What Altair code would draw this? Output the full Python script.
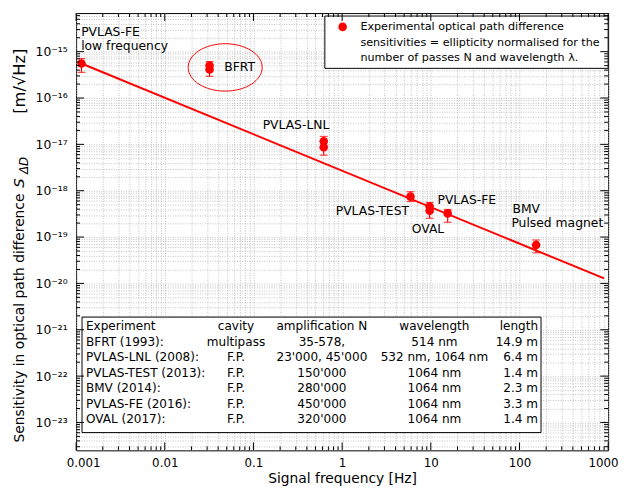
import altair as alt
import pandas as pd

# ---------------- data ----------------
experiment = ["PVLAS-FE low", "BFRT", "BFRT", "PVLAS-LNL", "PVLAS-LNL",
              "PVLAS-TEST", "OVAL", "OVAL", "PVLAS-FE", "BMV"]
freq = [0.00115, 0.032, 0.032, 0.62, 0.62, 5.9, 9.7, 9.7, 15.5, 154]
sens = [5.55e-16, 5.04e-16, 4.14e-16, 1.16e-17, 8.63e-18,
        7.45e-19, 4.57e-19, 3.7e-19, 3.24e-19, 6.76e-20]
err_hi = [7.1e-16, 6.1e-16, 5.04e-16, 1.48e-17, 1.16e-17,
          9.53e-19, 5.56e-19, 4.57e-19, 3.94e-19, 8.63e-20]
err_lo = [3.57e-16, 4.14e-16, 2.94e-16, 8.63e-18, 5.83e-18,
          5.83e-19, 3.57e-19, 2.54e-19, 2.08e-19, 4.57e-20]

line_f = [0.00115, 900]
line_s = [5.55e-16, 1.28e-20]

label_text = ["PVLAS-FE", "low frequency", "BFRT", "PVLAS-LNL", "PVLAS-TEST",
              "PVLAS-FE", "OVAL", "BMV", "Pulsed magnet"]
label_f = [0.00114, 0.00114, 0.0468, 0.127, 0.847, 11.9, 6.1, 83.3, 81.1]
label_s = [2.66e-15, 1.34e-15, 4.57e-16, 2.67e-17, 3.57e-19,
           6.44e-19, 1.48e-19, 3.94e-19, 1.99e-19]

ellipse_f = [0.048]
ellipse_s = [4.57e-16]

legend_lines = ["Experimental optical path difference",
                "sensitivities = ellipticity normalised for the",
                "number of passes N and wavelength \u03bb."]

tab_experiment = ["Experiment", "BFRT (1993):", "PVLAS-LNL (2008):", "PVLAS-TEST (2013):",
                  "BMV (2014):", "PVLAS-FE (2016):", "OVAL (2017):"]
tab_cavity = ["cavity", "multipass", "F.P.", "F.P.", "F.P.", "F.P.", "F.P."]
tab_ampl = ["amplification N", "35-578,", "23'000, 45'000", "150'000",
            "280'000", "450'000", "320'000"]
tab_wave = ["wavelength", "514 nm", "532 nm, 1064 nm", "1064 nm",
            "1064 nm", "1064 nm", "1064 nm"]
tab_length = ["length", "14.9 m", "6.4 m", "1.4 m", "2.3 m", "3.3 m", "1.4 m"]

x_domain = [0.001, 1000]
y_domain = [2.5e-24, 6.8e-15]
x_decades = [-3, -2, -1, 0, 1, 2, 3]
y_decades = list(range(-24, -14))
x_tick_labels = ["0.001", "0.01", "0.1", "1", "10", "100", "1000"]

# ---------------- layout ----------------
W, H = 539, 443
FONT = "DejaVu Sans"
RED = "#ff0000"

sup = str.maketrans("-0123456789", "\u207b\u2070\u00b9\u00b2\u00b3\u2074\u2075\u2076\u2077\u2078\u2079")

x_major = [10.0 ** e for e in x_decades]
x_minor = [k * 10.0 ** e for e in x_decades[:-1] for k in range(2, 10)]
y_major = [10.0 ** e for e in y_decades if y_domain[0] <= 10.0 ** e <= y_domain[1]]
y_minor = [k * 10.0 ** e for e in y_decades for k in range(2, 10)
           if y_domain[0] <= k * 10.0 ** e <= y_domain[1]]

exp_expr = "round(log(datum.value)/LN10)"
dec_expr = f"abs(log(datum.value)/LN10 - {exp_expr}) < 0.001"
xchain = "".join(f"{exp_expr}=={e}?'{t}':" for e, t in zip(x_decades, x_tick_labels)) + "''"
ychain = "".join(f"{exp_expr}=={e}?'{('10' + str(e).translate(sup))}':" for e in y_decades) + "''"

x_axis = alt.Axis(values=sorted(x_major + x_minor), labelExpr=f"({dec_expr}) ? ({xchain}) : ''",
                  grid=True, gridColor="#a8a8a8", gridDash=[1, 1.5], gridWidth=0.7,
                  ticks=False, domain=False, labelFont=FONT, labelFontSize=12,
                  labelColor="black", labelPadding=7, labelFlush=True, labelFlushOffset=10,
                  labelOverlap=False,
                  title="Signal frequency [Hz]", titleFont=FONT, titleFontSize=14,
                  titleFontWeight="normal", titleColor="black", titlePadding=4)
y_axis = alt.Axis(values=sorted(y_major + y_minor), labelExpr=f"({dec_expr}) ? ({ychain}) : ''",
                  grid=True, gridColor="#a8a8a8", gridDash=[1, 1.5], gridWidth=0.7,
                  ticks=False, domain=False, labelFont=FONT, labelFontSize=12.5,
                  labelColor="black", labelPadding=9, labelOverlap=False, title=None)


def X(field):
    return alt.X(field, type="quantitative", scale=alt.Scale(type="log", domain=x_domain), axis=x_axis)


def Y(field):
    return alt.Y(field, type="quantitative", scale=alt.Scale(type="log", domain=y_domain), axis=y_axis)


pts = pd.DataFrame({"experiment": experiment, "f": freq, "s": sens, "lo": err_lo, "hi": err_hi})
fit = pd.DataFrame({"f": line_f, "s": line_s})
labs = pd.DataFrame({"t": label_text, "f": label_f, "s": label_s})
ell = pd.DataFrame({"f": ellipse_f, "s": ellipse_s})
one = pd.DataFrame({"k": [0]})

base_pts = alt.Chart(pts)
line = alt.Chart(fit).mark_line(color=RED, strokeWidth=2).encode(x=X("f"), y=Y("s"))
ebar = base_pts.mark_rule(color=RED, strokeWidth=1.2).encode(x=X("f"), y=Y("lo"), y2="hi")
cap_lo = base_pts.mark_tick(color=RED, orient="horizontal", size=8, thickness=1.2).encode(x=X("f"), y=Y("lo"))
cap_hi = base_pts.mark_tick(color=RED, orient="horizontal", size=8, thickness=1.2).encode(x=X("f"), y=Y("hi"))
dots = base_pts.mark_point(filled=True, color=RED, size=75, opacity=1).encode(x=X("f"), y=Y("s"))
texts = alt.Chart(labs).mark_text(font=FONT, fontSize=12.5, align="left", baseline="middle",
                                  color="black").encode(x=X("f"), y=Y("s"), text="t:N")
ellipse = alt.Chart(ell).mark_point(shape="M-1,0A1,0.64 0 1,1 1,0A1,0.64 0 1,1 -1,0Z",
                                    size=5625, filled=False, color=RED, strokeWidth=1,
                                    opacity=1).encode(x=X("f"), y=Y("s"))

# legend box
leg_box = alt.Chart(one).mark_rect(fill="white", stroke="black", strokeWidth=1).encode(
    x=alt.value(252), x2=alt.value(539), y=alt.value(3), y2=alt.value(56))
leg_dot = alt.Chart(one).mark_point(filled=True, color=RED, size=75, opacity=1).encode(
    x=alt.value(270), y=alt.value(14))
leg_txt = alt.Chart(one).mark_text(text=legend_lines, font=FONT, fontSize=11.3, lineHeight=16,
                                   align="left", baseline="middle", color="black").encode(
    x=alt.value(288), y=alt.value(14))

# table box
tab_box = alt.Chart(one).mark_rect(fill="white", stroke="black", strokeWidth=1).encode(
    x=alt.value(6), x2=alt.value(471), y=alt.value(308), y2=alt.value(425))
tab_layers = []
for col, xpos, al in [(tab_experiment, 10, "left"), (tab_cavity, 162, "center"),
                      (tab_ampl, 249, "center"), (tab_wave, 363, "center"),
                      (tab_length, 468, "right")]:
    tab_layers.append(alt.Chart(one).mark_text(text=col, font=FONT, fontSize=12.2, lineHeight=15.8,
                                               align=al, baseline="middle", color="black").encode(
        x=alt.value(xpos), y=alt.value(317)))

# inward ticks on all four sides
xt_major = pd.DataFrame({"f": x_major})
xt_minor = pd.DataFrame({"f": x_minor})
yt_major = pd.DataFrame({"s": y_major})
yt_minor = pd.DataFrame({"s": y_minor})
tick_layers = []
for dfx, L in [(xt_major, 8), (xt_minor, 4)]:
    tick_layers.append(alt.Chart(dfx).mark_rule(color="black", strokeWidth=1).encode(
        x=X("f"), y=alt.value(H), y2=alt.value(H - L)))
    tick_layers.append(alt.Chart(dfx).mark_rule(color="black", strokeWidth=1).encode(
        x=X("f"), y=alt.value(0), y2=alt.value(L)))
for dfy, L in [(yt_major, 8), (yt_minor, 4)]:
    tick_layers.append(alt.Chart(dfy).mark_rule(color="black", strokeWidth=1).encode(
        y=Y("s"), x=alt.value(0), x2=alt.value(L)))
    tick_layers.append(alt.Chart(dfy).mark_rule(color="black", strokeWidth=1).encode(
        y=Y("s"), x=alt.value(W), x2=alt.value(W - L)))

# y title pieces (rotated)
yt_a = alt.Chart(one).mark_text(text="Sensitivity in optical path difference", font=FONT, fontSize=14,
                                angle=270, align="left", baseline="middle", color="black").encode(
    x=alt.value(-57), y=alt.value(435))
yt_b = alt.Chart(one).mark_text(text="S", font=FONT, fontSize=15, fontStyle="italic",
                                angle=270, align="left", baseline="middle", color="black").encode(
    x=alt.value(-58), y=alt.value(177))
yt_c = alt.Chart(one).mark_text(text="\u0394D", font=FONT, fontSize=12, fontStyle="italic",
                                angle=270, align="left", baseline="middle", color="black").encode(
    x=alt.value(-53), y=alt.value(163))
yt_d = alt.Chart(one).mark_text(text="[m/\u221aHz]", font=FONT, fontSize=16.5,
                                angle=270, align="left", baseline="middle", color="black").encode(
    x=alt.value(-57), y=alt.value(102))

chart = alt.layer(
    line, ebar, cap_lo, cap_hi, dots, texts, ellipse,
    leg_box, leg_dot, leg_txt, tab_box, *tab_layers, *tick_layers,
    yt_a, yt_b, yt_c, yt_d
).properties(
    width=W, height=H,
    padding={"left": 69, "top": 2, "right": 11, "bottom": 35},
    autosize=alt.AutoSizeParams(type="none"),
    background="white"
).configure_view(stroke="black", strokeWidth=1)

chart.save("out.html", embed_options={"renderer": "svg", "actions": False})
